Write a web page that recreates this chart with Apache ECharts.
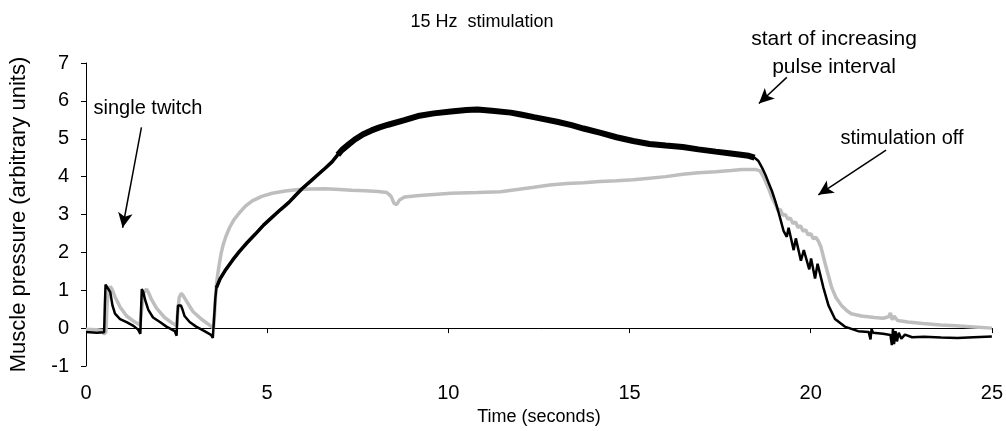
<!DOCTYPE html>
<html>
<head>
<meta charset="utf-8">
<script src="https://cdn.jsdelivr.net/npm/echarts@6/dist/echarts.min.js"></script>
<style>
html,body{margin:0;padding:0;background:#fff;}
#chart{width:1006px;height:431px;}
</style>
</head>
<body>
<div id="chart"></div>
<script>
// ---- data ----
const titleText = '15 Hz  stimulation';
const xName = 'Time (seconds)';
const yName = 'Muscle pressure (arbitrary units)';
const xTicks = [0, 5, 10, 15, 20, 25];
const yTicks = [-1, 0, 1, 2, 3, 4, 5, 6, 7];

// black trace [time (s), pressure]
const blackTrace = [
[0,-0.1],[0.3,-0.12],[0.5,-0.11],[0.52,0.6],[0.54,1.15],[0.58,1.1],[0.67,0.95],[0.73,0.6],[0.8,0.38],[0.94,0.24],[1.12,0.16],[1.31,0.06],[1.44,-0.04],[1.5,-0.15],
[1.52,0.5],[1.54,1.03],[1.58,0.95],[1.63,0.75],[1.72,0.48],[1.85,0.28],[2.04,0.16],[2.22,0.04],[2.45,-0.08],[2.5,-0.2],
[2.52,0.3],[2.54,0.6],[2.62,0.6],[2.66,0.5],[2.72,0.32],[2.86,0.16],[3.04,0.04],[3.27,-0.08],[3.45,-0.18],[3.5,-0.26],
[3.53,0.2],[3.57,0.8],[3.6,1.07],[3.7,1.3],[3.86,1.55],[4.05,1.8],[4.23,2.02],[4.45,2.26],[4.68,2.49],[4.9,2.72],[5.14,2.93],[5.37,3.13],[5.6,3.32],[5.78,3.5],[5.96,3.68],[6.2,3.88],[6.42,4.07],[6.6,4.22],[6.79,4.39],[6.95,4.58],[7.06,4.7],[7.25,4.85],[7.42,4.98],[7.65,5.12],[7.88,5.22],[8.1,5.3],[8.34,5.37],[8.79,5.49],[9.16,5.6],[9.6,5.67],[10.07,5.72],[10.5,5.76],[10.8,5.77],[11.2,5.74],[11.72,5.69],[12.0,5.64],[12.36,5.57],[13.0,5.45],[13.4,5.36],[13.73,5.27],[14.18,5.16],[14.64,5.04],[15.1,4.94],[15.55,4.86],[16.0,4.82],[16.47,4.78],[16.9,4.72],[17.38,4.66],[17.8,4.61],[18.29,4.55],[18.45,4.5],[18.55,4.42],[18.66,4.23],[18.75,4.05],[18.84,3.83],[18.93,3.62],[19.02,3.36],[19.1,3.1],[19.16,2.89],[19.25,2.57],
[19.34,2.41],[19.39,2.65],[19.53,2.06],[19.59,2.37],[19.73,1.78],[19.81,2.06],[19.96,1.55],[20.01,1.84],[20.12,1.31],[20.19,1.7],
[20.35,1.07],[20.49,0.6],[20.67,0.24],[20.94,0.04],[21.31,-0.08],[21.6,-0.1],[21.65,-0.3],[21.68,-0.02],[21.72,-0.12],[22.0,-0.15],[22.2,-0.18],[22.24,-0.45],[22.27,-0.02],[22.3,-0.42],[22.34,-0.08],[22.38,-0.35],[22.43,-0.12],[22.5,-0.28],[22.6,-0.17],[22.8,-0.24],[23.13,-0.23],[23.6,-0.25],[24.05,-0.26],[24.5,-0.24],[25,-0.22]
];

// grey trace [time (s), pressure]
const greyTrace = [
[0,-0.03],[0.3,-0.04],[0.45,-0.06],[0.5,-0.16],[0.55,-0.1],[0.58,0.6],[0.62,1.0],[0.67,1.1],[0.72,1.02],[0.8,0.83],[0.94,0.56],[1.12,0.32],[1.35,0.16],[1.49,0.08],
[1.53,0.1],[1.56,0.7],[1.6,0.95],[1.67,1.03],[1.72,0.95],[1.81,0.75],[1.95,0.52],[2.17,0.28],[2.4,0.12],[2.5,0.06],
[2.53,0.4],[2.57,0.8],[2.63,0.92],[2.68,0.86],[2.77,0.72],[2.95,0.44],[3.18,0.24],[3.41,0.08],[3.52,0.0],
[3.55,0.4],[3.59,1.08],[3.64,1.45],[3.68,1.7],[3.73,1.98],[3.78,2.18],[3.86,2.42],[3.96,2.65],[4.08,2.86],[4.23,3.04],[4.4,3.22],[4.59,3.36],[4.85,3.48],[5.14,3.56],[5.5,3.62],[5.87,3.66],[6.2,3.67],[6.6,3.68],[7.0,3.66],[7.33,3.64],[7.7,3.63],[8.06,3.61],[8.3,3.58],[8.42,3.48],[8.5,3.3],[8.57,3.26],[8.65,3.38],[8.79,3.46],[9.2,3.5],[9.6,3.53],[10.07,3.56],[10.8,3.58],[11.44,3.6],[11.9,3.66],[12.36,3.72],[12.8,3.78],[13.27,3.82],[13.73,3.84],[14.18,3.87],[14.64,3.89],[15.1,3.92],[15.55,3.96],[16.0,4.0],[16.47,4.06],[16.9,4.1],[17.38,4.13],[17.8,4.16],[18.11,4.19],[18.47,4.19],[18.6,4.15],[18.7,3.99],[18.84,3.68],[18.93,3.45],[19.02,3.28],[19.1,3.1],[19.16,3.14],[19.23,2.98],[19.3,3.0],
[19.37,2.88],[19.44,2.9],[19.51,2.76],[19.58,2.8],[19.65,2.66],[19.72,2.7],[19.79,2.56],[19.86,2.6],[19.93,2.46],[20.0,2.5],[20.07,2.36],[20.14,2.4],[20.21,2.3],[20.28,2.15],[20.4,1.7],[20.5,1.35],[20.58,1.07],[20.7,0.8],[20.85,0.6],[21.0,0.46],[21.12,0.38],[21.4,0.32],[21.76,0.28],[22.0,0.26],[22.15,0.3],[22.2,0.4],[22.25,0.22],[22.3,0.32],[22.4,0.2],[22.68,0.16],[23.1,0.12],[23.59,0.08],[24.0,0.06],[24.5,0.03],[25,0.0]
];

// annotation texts and arrow (from -> to) in data units
const noteTexts = ['single twitch', 'start of increasing\npulse interval', 'stimulation off'];
const noteArrows = [
  [[1.53, 5.30], [1.01, 2.65]],
  [[19.34, 6.62], [18.57, 5.93]],
  [[22.08, 4.70], [20.21, 3.52]]
];
// time windows in which the black trace is drawn as a thicker noisy band
const rampWindow = [3.6, 7.1];
const plateauWindow = [6.9, 18.5];

// ---- chart ----
const FONT = 'Liberation Sans, Arial, sans-serif';
const chart = echarts.init(document.getElementById('chart'), null, {renderer: 'canvas'});
const inWin = (w) => blackTrace.filter(p => p[0] >= w[0] && p[0] <= w[1]);
const option = {
  animation: false,
  backgroundColor: '#ffffff',
  grid: {left: 79, right: 14, top: 63, bottom: 31, containLabel: false},
  xAxis: {
    type: 'value', min: xTicks[0], max: xTicks[xTicks.length - 1], interval: 5,
    name: xName, nameLocation: 'middle', nameGap: 42,
    nameTextStyle: {fontFamily: FONT, fontSize: 18, color: '#000'},
    axisLine: {show: true, onZero: true, lineStyle: {color: '#000', width: 1}},
    axisTick: {show: true, inside: false, length: 5, lineStyle: {color: '#000'}},
    axisLabel: {fontFamily: FONT, fontSize: 20, color: '#000', margin: 17},
    splitLine: {show: false}
  },
  yAxis: {
    type: 'value', min: yTicks[0], max: yTicks[yTicks.length - 1], interval: 1,
    name: yName, nameLocation: 'middle', nameGap: 56, nameRotate: 90,
    nameTextStyle: {fontFamily: FONT, fontSize: 22, color: '#000'},
    axisLine: {show: true, lineStyle: {color: '#000', width: 1}},
    axisTick: {show: true, inside: false, length: 5, lineStyle: {color: '#000'}},
    axisLabel: {fontFamily: FONT, fontSize: 20, color: '#000', margin: 17},
    splitLine: {show: false}
  },
  series: [
    {
      type: 'line', data: greyTrace, showSymbol: false, symbol: 'none',
      lineStyle: {color: '#bebebe', width: 3.5}, z: 2
    },
    {
      type: 'line', data: blackTrace, showSymbol: false, symbol: 'none',
      lineStyle: {color: '#000000', width: 2.5}, z: 3,
      markLine: {
        silent: true, symbol: ['none', 'arrow'], symbolSize: [11, 15],
        label: {show: false},
        lineStyle: {color: '#000', width: 1.5, type: 'solid'},
        data: noteArrows.map(a => [{coord: a[0]}, {coord: a[1]}])
      }
    },
    {
      type: 'line', data: inWin(rampWindow), showSymbol: false, symbol: 'none',
      lineStyle: {color: '#000000', width: 3.5}, z: 3
    },
    {
      type: 'line', data: inWin(plateauWindow), showSymbol: false, symbol: 'none',
      lineStyle: {color: '#000000', width: 6}, z: 3
    }
  ],
  graphic: [
    {type: 'text', x: 482, y: 22, style: {text: titleText, font: '18px ' + FONT, fill: '#000', textAlign: 'center', textVerticalAlign: 'middle'}},
    {type: 'text', x: 148, y: 108, style: {text: noteTexts[0], font: '20px ' + FONT, fill: '#000', textAlign: 'center', textVerticalAlign: 'middle'}},
    {type: 'text', x: 834, y: 53, style: {text: noteTexts[1], font: '21px ' + FONT, fill: '#000', textAlign: 'center', textVerticalAlign: 'middle', lineHeight: 28}},
    {type: 'text', x: 902, y: 138, style: {text: noteTexts[2], font: '20px ' + FONT, fill: '#000', textAlign: 'center', textVerticalAlign: 'middle'}}
  ]
};
chart.setOption(option);
</script>
</body>
</html>
